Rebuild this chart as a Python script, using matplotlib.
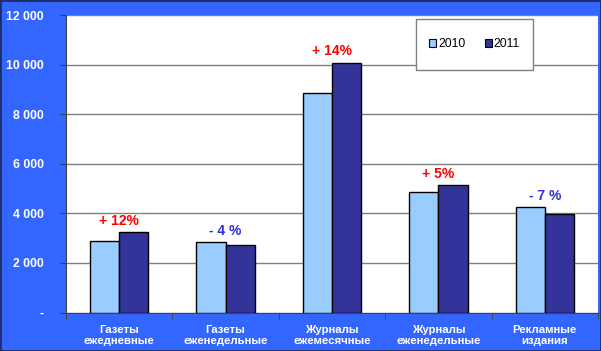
import matplotlib
matplotlib.use('Agg')
import matplotlib.pyplot as plt
from matplotlib.patches import Rectangle
from matplotlib.ticker import FuncFormatter
import numpy as np

plt.rcParams['font.family'] = ['Liberation Sans', 'DejaVu Sans']

categories = ['Газеты\nежедневные', 'Газеты\nеженедельные', 'Журналы\nежемесячные',
              'Журналы\nеженедельные', 'Рекламные\nиздания']
values_2010 = [2900, 2850, 8850, 4880, 4270]
values_2011 = [3260, 2740, 10080, 5130, 3970]
change_labels = ['+ 12%', '- 4 %', '+ 14%', '+ 5%', '- 7 %']
change_colors = ['#FF0000', '#3030E0', '#FF0000', '#FF0000', '#3030E0']
series_names = ['2010', '2011']

blue_bg = '#3366FF'
c2010 = '#99CCFF'
c2011 = '#333399'

fig = plt.figure(figsize=(6.01, 3.51), dpi=100)
fig.patch.set_facecolor(blue_bg)
W, H = 601, 351
ax = fig.add_axes([66 / W, (H - 312.5) / H, (598 - 66) / W, (312.5 - 15) / H])
ax.set_facecolor('white')

x = np.arange(len(categories))
bw = 0.275
ax.bar(x - bw / 2, values_2010, bw, color=c2010, edgecolor='black', linewidth=1.0,
       label=series_names[0], zorder=3)
ax.bar(x + bw / 2, values_2011, bw, color=c2011, edgecolor='black', linewidth=1.0,
       label=series_names[1], zorder=3)

# change labels above each pair
for i, (lab, col) in enumerate(zip(change_labels, change_colors)):
    top = max(values_2010[i], values_2011[i])
    ax.annotate(lab, xy=(x[i], top), xytext=(0, 8), textcoords='offset points',
                ha='center', va='center', color=col, fontsize=10, fontweight='bold')

ax.set_xlim(-0.5, len(categories) - 0.5)
ax.set_ylim(0, 12000)
ax.set_yticks(np.arange(0, 12001, 2000))
ax.yaxis.set_major_formatter(FuncFormatter(
    lambda v, p: '-' if v == 0 else f'{int(v):,}'.replace(',', ' ')))
ax.grid(axis='y', color='#808080', linewidth=1.0, zorder=0)

ax.set_xticks(x)
ax.set_xticklabels(categories, linespacing=1.15)
ax.set_xticks(np.arange(-0.5, len(categories)), minor=True)
ax.tick_params(axis='x', which='major', length=0, pad=9, colors='white', labelsize=8.2)
ax.tick_params(axis='x', which='minor', length=4, color='#404040', direction='out')
ax.tick_params(axis='y', length=4, pad=12, colors='white', labelsize=8.8)
ax.tick_params(axis='y', color='#404040')
for t in ax.get_xticklabels() + ax.get_yticklabels():
    t.set_fontweight('bold')
    t.set_color('white')

for s in ['top', 'right']:
    ax.spines[s].set_visible(False)
ax.spines['left'].set_color('#404040')
ax.spines['bottom'].set_color('#404040')

# legend box
ax.add_patch(Rectangle((0.658, 0.815), 0.22, 0.172, transform=ax.transAxes,
                       facecolor='white', edgecolor='#808080', linewidth=1.0, zorder=4))
leg = ax.legend(loc='center', bbox_to_anchor=(0.658, 0.815, 0.22, 0.172), ncol=2,
                frameon=False, fontsize=8.8, handlelength=0.55, handleheight=0.55,
                handletextpad=0.15, columnspacing=1.6, borderpad=0)
leg.set_zorder(5)
for h in leg.legend_handles:
    h.set_linewidth(0.8)

fig.add_artist(Rectangle((0, 0), 1, 1, transform=fig.transFigure, fill=False,
                         edgecolor='#1F2D6B', linewidth=2))

fig.savefig('out.png', dpi=100, facecolor=fig.get_facecolor())
